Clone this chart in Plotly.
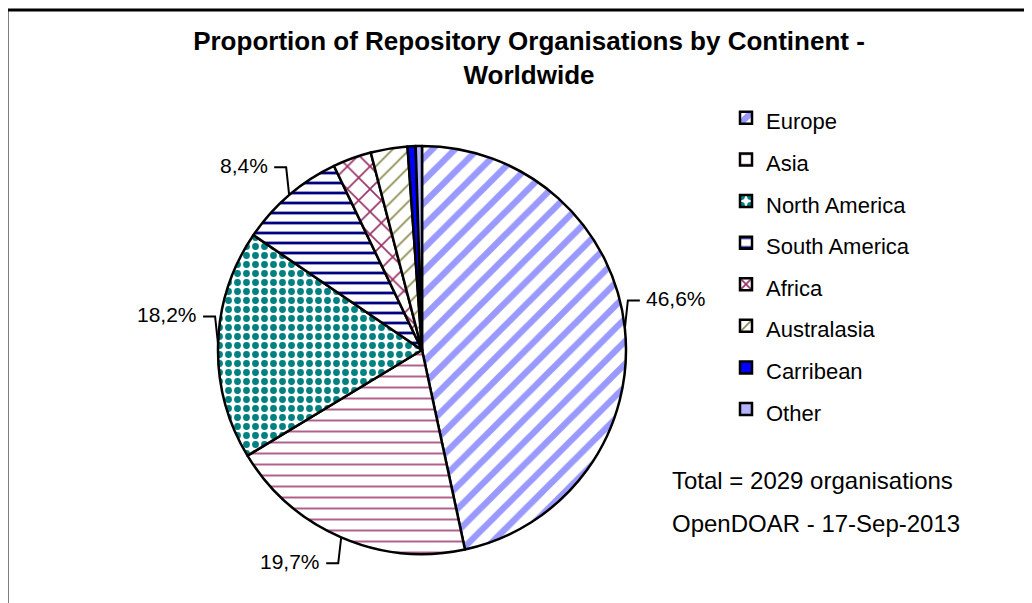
import math

import plotly.graph_objects as go

# data (total = 2029 organisations)
continents = [
    "Europe",
    "Asia",
    "North America",
    "South America",
    "Africa",
    "Australasia",
    "Carribean",
    "Other",
]
organisations = [946, 400, 369, 170, 62, 59, 13, 10]
show_label = [True, True, True, True, False, False, False, False]
title_text = "Proportion of Repository Organisations by Continent -<br>Worldwide"
total_note = "Total = 2029 organisations"
source_note = "OpenDOAR - 17-Sep-2013"

# slice styles
fill_colors = ["white", "white", "white", "white", "white", "white", "#0000ff", "#b3b3ff"]
pat_shapes = ["/", "-", ".", "-", "x", "/", "", ""]
pat_colors = ["#9999ff", "#b0608a", "#008080", "#000080", "#993366", "#8c8c50", "#0000ff", "#b3b3ff"]
pat_sizes = [16, 11, 9, 10, 16, 12, 8, 8]
pat_solid = [0.4, 0.18, 0.45, 0.28, 0.2, 0.14, 0.3, 0.3]

# page body adds an 8px offset, so the figure is a bit smaller than the window
OFF = 8
W, H = 1024, 595
CX, CY, R = 422, 350, 204
FONT = "Liberation Sans, Arial, sans-serif"


def to_paper(x, y):
    return (x - OFF) / W, 1 - (y - OFF) / H


x0, y_top = to_paper(CX - R, CY - R)
x1, y_bot = to_paper(CX + R, CY + R)

legend_labels = [f"<span style='font-size:22px'>{c}</span>" for c in continents]

fig = go.Figure(
    go.Pie(
        labels=legend_labels,
        values=organisations,
        sort=False,
        direction="clockwise",
        rotation=0,
        textinfo="none",
        hoverinfo="label+value+percent",
        domain={"x": [x0, x1], "y": [y_bot, y_top]},
        marker={
            "colors": fill_colors,
            "line": {"color": "black", "width": 2.5},
            "pattern": {
                "shape": pat_shapes,
                "fgcolor": pat_colors,
                "bgcolor": fill_colors,
                "size": pat_sizes,
                "solidity": pat_solid,
            },
        },
    )
)

# percentage labels with elbow leader lines, placed from the slice angles
shapes = []
annotations = []
total = sum(organisations)
cum = 0
for name, val, lab in zip(continents, organisations, show_label):
    frac = val / total
    theta = 2 * math.pi * (cum + frac / 2)
    cum += frac
    if not lab:
        continue
    s = 1 if math.sin(theta) > 0 else -1
    dy = -28 if math.cos(theta) > 0 else 26
    ax, ay = CX + R * math.sin(theta), CY - R * math.cos(theta)
    ex, ey = ax + 3 * s, ay + dy
    tx = ex + 12 * s
    pa = to_paper(ax, ay)
    pe = to_paper(ex, ey)
    pt = to_paper(tx, ey)
    shapes.append(
        {
            "type": "path",
            "xref": "paper",
            "yref": "paper",
            "path": f"M{pa[0]},{pa[1]} L{pe[0]},{pe[1]} L{pt[0]},{pt[1]}",
            "line": {"color": "black", "width": 2},
        }
    )
    lx, ly = to_paper(tx + 4 * s, ey - 2)
    annotations.append(
        {
            "x": lx,
            "y": ly,
            "xref": "paper",
            "yref": "paper",
            "text": f"{frac * 100:.1f}%".replace(".", ","),
            "showarrow": False,
            "xanchor": "left" if s > 0 else "right",
            "yanchor": "middle",
            "font": {"size": 21, "color": "black", "family": FONT},
        }
    )

for txt, ypx in [(total_note, 480), (source_note, 523)]:
    nx, ny = to_paper(670, ypx)
    annotations.append(
        {
            "x": nx,
            "y": ny,
            "xref": "paper",
            "yref": "paper",
            "text": txt,
            "showarrow": False,
            "xanchor": "left",
            "yanchor": "middle",
            "font": {"size": 24, "color": "black", "family": FONT},
        }
    )

# chart area border (runs off the right and bottom edges)
bx, by = to_paper(7, 10)
shapes.append(
    {
        "type": "rect",
        "xref": "paper",
        "yref": "paper",
        "x0": bx,
        "y0": by,
        "x1": 1.05,
        "y1": -0.05,
        "line": {"color": "black", "width": 3},
    }
)

lgx, lgy = to_paper(726, 92)
tx_, ty_ = to_paper(529, 50)
fig.update_layout(
    width=W,
    height=H,
    margin={"l": 0, "r": 0, "t": 0, "b": 0},
    paper_bgcolor="white",
    plot_bgcolor="white",
    font={"family": FONT, "color": "black"},
    title={
        "text": title_text,
        "x": tx_,
        "xanchor": "center",
        "y": ty_,
        "yanchor": "top",
        "font": {"size": 26, "family": FONT, "color": "black", "weight": "bold"},
    },
    legend={
        "x": lgx,
        "y": lgy,
        "xanchor": "left",
        "yanchor": "top",
        "font": {"size": 29.7, "family": FONT, "color": "black"},
        "itemwidth": 30,
        "bgcolor": "rgba(0,0,0,0)",
    },
    shapes=shapes,
    annotations=annotations,
)

fig.write_html("out.html")
